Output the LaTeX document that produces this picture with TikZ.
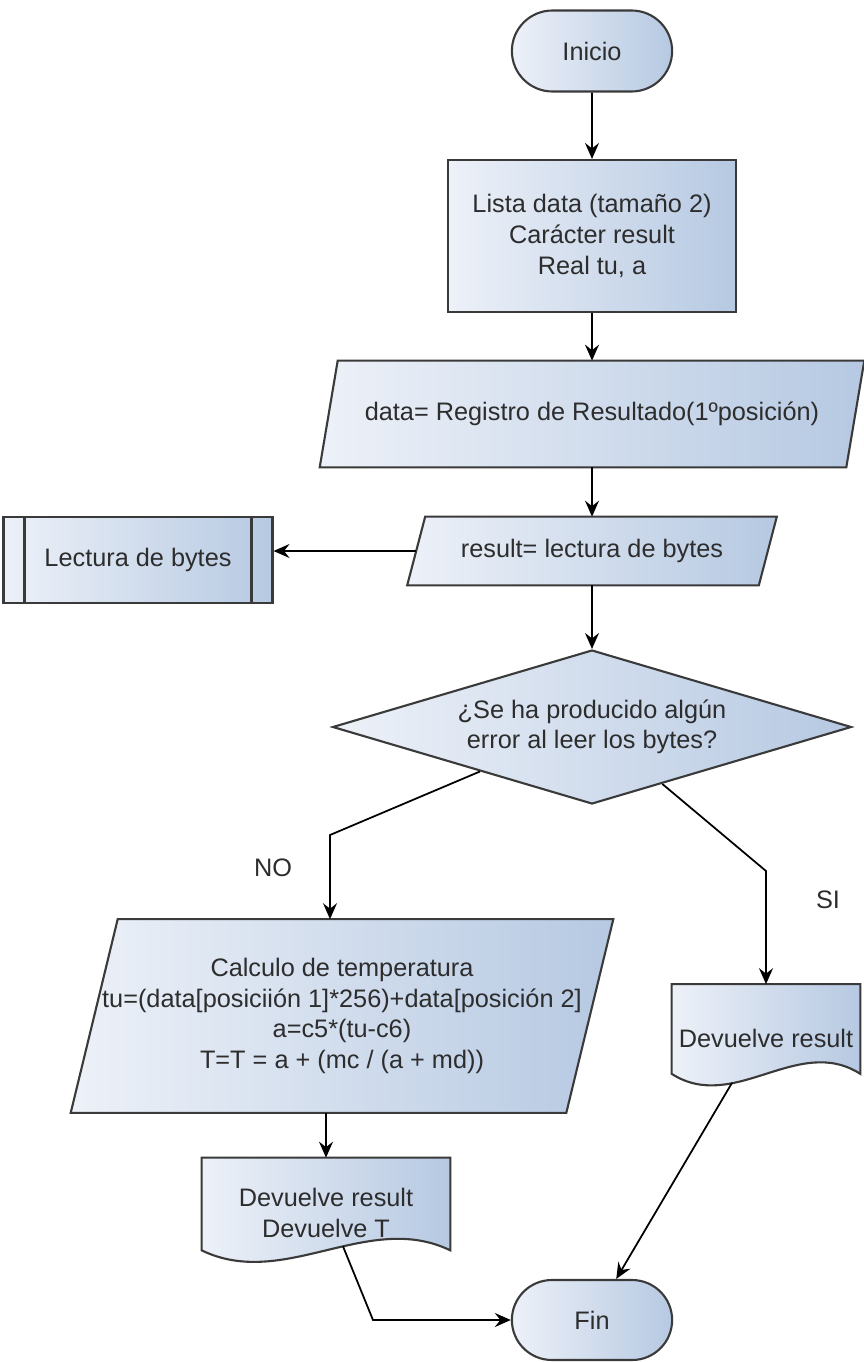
\documentclass[tikz,border=0pt]{standalone}
\usepackage{fontspec}
\setmainfont{Liberation Sans}
\usetikzlibrary{shapes.geometric,shapes.misc,arrows.meta,calc,backgrounds}

\definecolor{boxlight}{HTML}{EDF1F8}
\definecolor{boxdark}{HTML}{B6C9E2}
\definecolor{lineclr}{HTML}{3A3A3A}
\definecolor{ink}{HTML}{2D2D2D}

\tikzset{
  every node/.style={font=\fontsize{14.4}{17.4}\selectfont, text=ink, align=center},
  block/.style={draw=lineclr, line width=1.2pt, left color=boxlight, right color=boxdark},
  term/.style={block, rounded rectangle, minimum width=3.44cm, minimum height=1.62cm},
  arr/.style={line width=1pt, -{Stealth[length=3.2mm,width=2.8mm,inset=1.1mm]}}
}

\begin{document}
\begin{tikzpicture}[x=0.02cm,y=-0.02cm]
\useasboundingbox (0,0) rectangle (864,1362);

% main column
\node[term] (inicio) at (592,51) {Inicio};
\node[block, minimum width=5.76cm, minimum height=3.04cm] (decl) at (592,236) {Lista data (tamaño 2)\\Carácter result\\Real tu, a};
\node[minimum width=10.52cm, minimum height=2.12cm] (reg) at (592,414) {data= Registro de Resultado(1ºposición)};
\node[minimum width=7.02cm, minimum height=1.36cm] (res) at (592,551) {result= lectura de bytes};
\node[block, minimum width=5.38cm, minimum height=1.72cm] (lect) at (138,560) {Lectura de bytes};
\node[block, diamond, aspect=3.39, inner sep=0pt, minimum width=10.38cm, minimum height=3.08cm] (dec) at (592,727) {¿Se ha producido algún\\error al leer los bytes?};

% branches
\node[minimum width=9.9cm, minimum height=3.86cm, inner sep=1pt] (temp) at (342,1016) {Calculo de temperatura\\tu=(data[posiciión 1]*256)+data[posición 2]\\a=c5*(tu-c6)\\T=T = a + (mc / (a + md))};
\node[minimum width=4.96cm, minimum height=2.2cm] (ret1) at (326,1213) {Devuelve result\\Devuelve T};
\node[minimum width=3.76cm, minimum height=2.14cm, inner sep=1pt] (ret2) at (766,1038) {Devuelve result};
\node[term, minimum height=1.6cm] (fin) at (592,1320) {Fin};
\node (no) at (273,868) {NO};
\node (si) at (828,900) {SI};

% outlines of the slanted and wavy boxes
\begin{scope}[on background layer]
\foreach \n/\s in {reg/0.18cm, res/0.18cm, temp/0.47cm}
  \path[block] ([xshift=\s]\n.north west) -- ([xshift=\s]\n.north east)
    -- ([xshift=-\s]\n.south east) -- ([xshift=-\s]\n.south west) -- cycle;
\foreach \n/\c in {ret1/1.65cm, ret2/1.25cm}
  \path[block] (\n.north west) -- (\n.north east) -- ([yshift=0.36cm]\n.south east)
    .. controls +(-\c,0.8cm) and +(\c,-0.8cm) .. ([yshift=0.36cm]\n.south west) -- cycle;
\end{scope}

% double bars of the subprocess
\foreach \a/\s in {west/1, east/-1}
  \draw[lineclr, line width=1.2pt] ([xshift=\s*0.44cm]lect.north \a) -- ([xshift=\s*0.44cm]lect.south \a);

\draw[arr] (inicio) -- (decl);
\draw[arr] (decl) -- (reg);
\draw[arr] (reg) -- (res);
\draw[arr] (res.west) -- (res.west -| lect.east);
\draw[arr] (res) -- (dec);

% NO / SI
\coordinate (nobend) at (330,835);
\draw[arr] ($(dec.south)!0.43!(dec.west)$) -- (nobend) -- (nobend |- temp.north);
\coordinate (sibend) at (766,871);
\draw[arr] ($(dec.south)!0.27!(dec.east)$) -- (sibend) -- (ret2.north);

% towards the end
\draw[arr] (temp.south -| ret1.north) -- (ret1.north);
\coordinate (finbend) at (373,1320);
\draw[arr] ([xshift=0.34cm,yshift=0.44cm]ret1.south) -- (finbend) -- (fin.west);
\draw[arr] ([xshift=-0.68cm,yshift=0.18cm]ret2.south) -- (fin);
\end{tikzpicture}
\end{document}
